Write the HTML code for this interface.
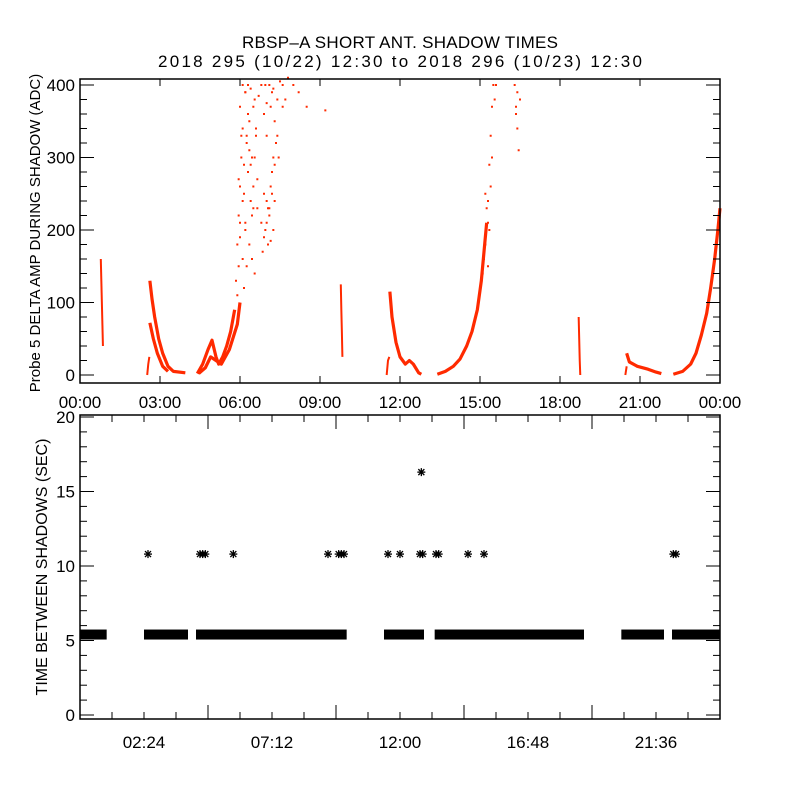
<!DOCTYPE html>
<html><head><meta charset="utf-8">
<style>
html,body{margin:0;padding:0;background:#fff;}
svg text{font-family:"Liberation Sans",sans-serif;fill:#000;}
</style></head>
<body>
<svg id="chart" width="800" height="800" viewBox="0 0 800 800" xmlns="http://www.w3.org/2000/svg">
<rect width="800" height="800" fill="#fff"/>
<text x="400" y="48" font-size="17" text-anchor="middle" textLength="316">RBSP–A SHORT ANT. SHADOW TIMES</text>
<text x="400" y="67" font-size="17" text-anchor="middle" textLength="484">2018 295 (10/22) 12:30 to 2018 296 (10/23) 12:30</text>
<g id="top"></g>
<g id="bot"></g>
</svg>
<script>
// ---- Data: top panel (hour, ADC) ----
const topCurveGroups = [
  [[0.78,160],[0.8,130],[0.82,100],[0.84,70],[0.86,40]],
  [[2.52,0],[2.56,15],[2.6,25]],
  [[2.62,130],[2.7,105],[2.8,80],[2.95,50],[3.1,30],[3.3,12],[3.5,5],[3.95,3]],
  [[2.62,72],[2.75,50],[2.9,30],[3.1,12],[3.3,5]],
  [[4.4,2],[4.6,15],[4.8,35],[4.95,48],[5.1,25],[5.2,15],[5.35,25],[5.5,40],[5.65,60],[5.8,90]],
  [[4.45,2],[4.7,10],[4.9,25],[5.1,20],[5.3,15],[5.6,35],[5.9,70],[6.0,100]],
  [[9.78,125],[9.8,90],[9.82,60],[9.84,25]],
  [[11.5,0],[11.55,20],[11.6,25]],
  [[11.62,115],[11.7,80],[11.85,45],[12.0,25],[12.2,15],[12.35,20],[12.5,15],[12.7,3],[12.8,1]],
  [[13.4,1],[13.7,5],[14.0,12],[14.25,22],[14.5,40],[14.7,60],[14.9,90],[15.05,130],[15.15,170],[15.25,210]],
  [[18.7,80],[18.72,50],[18.74,20],[18.76,0]],
  [[20.5,30],[20.6,18],[20.9,12],[21.3,8],[21.6,4],[21.8,2]],
  [[20.45,0],[20.5,12]],
  [[22.25,1],[22.6,5],[22.9,15],[23.1,30],[23.3,55],[23.5,85],[23.65,120],[23.8,160],[23.92,200],[24.0,230]]
];
const cloudHours = [5.85,5.9,5.95,6.0,6.05,6.1,6.0,6.15,6.2,6.25,6.3,6.35,6.4,6.45,6.5,6.55,6.6,6.2,6.3,6.1,6.4,6.5,6.7,6.8,6.9,7.0,7.1,7.2,7.3,7.4,7.5,7.6,7.7,7.8,8.0,8.2,8.5,9.2,6.8,6.9,7.0,7.05,7.1,7.15,7.2,7.25,7.3,6.85,6.95,7.05,7.15,7.25,6.25,6.35,6.45,6.15,6.55,6.65,6.0,5.95,6.05,6.2,
  5.9,5.95,6.0,6.1,6.15,6.25,6.3,6.4,6.45,6.55,6.6,6.65,6.1,6.2,6.35,6.5,6.9,7.0,7.1,7.2,7.3,7.0,7.15,6.95,7.25,7.4,7.6,7.35,7.45,
  15.3,15.35,15.4,15.45,15.5,15.55,15.6,15.3,15.2,15.4,15.1,15.15,15.25,15.35,15.45,15.2,15.3,16.3,16.35,16.4,16.45,16.5,16.4,16.35];
const cloudValues = [130,180,220,260,300,340,370,250,200,320,280,350,240,300,260,380,330,390,400,400,395,370,385,400,360,375,400,390,350,330,405,400,380,410,400,390,370,365,210,190,240,180,220,260,250,200,290,170,200,230,185,300,150,180,160,120,140,230,210,270,330,390,
  110,150,190,240,290,330,360,290,220,300,340,270,160,210,310,230,250,210,230,280,240,330,370,400,395,380,370,320,300,
  240,290,330,370,400,380,400,210,180,260,140,160,230,200,300,250,150,400,370,340,310,380,390,360];
// ---- Data: bottom panel ----
const bandStarts = [0.0,2.4,4.35,11.4,13.3,20.3,22.2];
const bandEnds   = [1.0,4.05,10.0,12.9,18.9,21.9,24.0];
const bandValue = 5.4;
const starHours  = [2.55,4.5,4.6,4.7,5.75,9.3,9.7,9.8,9.9,11.55,12.0,12.75,12.85,13.35,13.45,14.55,15.15,22.25,22.35,12.8];
const starValues = [10.8,10.8,10.8,10.8,10.8,10.8,10.8,10.8,10.8,10.8,10.8,10.8,10.8,10.8,10.8,10.8,10.8,10.8,10.8,16.3];
const topYTicks = ["0","100","200","300","400"];
const topXTicks = ["00:00","03:00","06:00","09:00","12:00","15:00","18:00","21:00","00:00"];
const botYTicks = ["0","5","10","15","20"];
const botXTicks = ["02:24","07:12","12:00","16:48","21:36"];

const NS="http://www.w3.org/2000/svg";
function mk(tag,attrs,parent){const e=document.createElementNS(NS,tag);for(const k in attrs)e.setAttribute(k,attrs[k]);parent.appendChild(e);return e;}
const X0=80,X1=720;
const xs=h=>X0+(h/24)*(X1-X0);
const T={top:79,bot:383,y0:375,k:0.725};
const ty=v=>T.y0-v*T.k;
const gt=document.getElementById('top');
const RED="#ff2a00";
topCurveGroups.forEach((grp,i)=>{
  const thin=grp.length<=5&&Math.abs(grp[0][0]-grp[grp.length-1][0])<0.2;
  const pl=mk('polyline',{points:grp.map(p=>xs(p[0])+','+ty(p[1])).join(' '),fill:'none',stroke:RED,'stroke-width':thin?2:3.2,'stroke-linejoin':'round'},gt);
  
  
});
cloudHours.forEach((h,i)=>{
  const r=mk('rect',{x:xs(h)-1,y:ty(cloudValues[i])-1,width:2,height:2,fill:RED},gt);
  
  
});
const tf=mk('rect',{x:X0,y:T.top,width:X1-X0,height:T.bot-T.top,fill:'none',stroke:'#000','stroke-width':1.5},gt);


for(let v=0;v<=400;v+=20){
  const len=(v%100===0)?14:7;
  mk('line',{x1:X0,x2:X0+len,y1:ty(v),y2:ty(v),stroke:'#000'},gt);
  mk('line',{x1:X1,x2:X1-len,y1:ty(v),y2:ty(v),stroke:'#000'},gt);
}
topYTicks.forEach(s=>{
  const t=mk('text',{x:75,y:ty(+s)+6,'font-size':17,'text-anchor':'end'},gt);t.textContent=s;
  
  
});
topXTicks.forEach((s,i)=>{
  const x=xs(i*3);
  mk('line',{x1:x,x2:x,y1:T.bot,y2:T.bot-7,stroke:'#000'},gt);
  mk('line',{x1:x,x2:x,y1:T.top,y2:T.top+7,stroke:'#000'},gt);
  const t=mk('text',{x:x,y:408,'font-size':17,'text-anchor':'middle'},gt);t.textContent=s;
  
  
});
const tyl=mk('text',{x:0,y:0,'font-size':15,'text-anchor':'middle',transform:'translate(40,233) rotate(-90)'},gt);
tyl.textContent='Probe 5 DELTA AMP DURING SHADOW (ADC)';



const B={top:415,bot:719,y0:715,k:14.9};
const by=v=>B.y0-v*B.k;
const gb=document.getElementById('bot');
bandStarts.forEach((s,i)=>{
  const r=mk('rect',{x:xs(s),y:by(bandValue)-5,width:xs(bandEnds[i])-xs(s),height:10,fill:'#000'},gb);
  
  
});
starHours.forEach((h,i)=>{
  const cx=xs(h),cy=by(starValues[i]);
  const g=mk('g',{stroke:'#000','stroke-width':1.3},gb);
  
  
  mk('line',{x1:cx-4,x2:cx+4,y1:cy,y2:cy},g);
  mk('line',{x1:cx,x2:cx,y1:cy-4,y2:cy+4},g);
  mk('line',{x1:cx-3,x2:cx+3,y1:cy-3,y2:cy+3},g);
  mk('line',{x1:cx-3,x2:cx+3,y1:cy+3,y2:cy-3},g);
});
const bf=mk('rect',{x:X0,y:B.top,width:X1-X0,height:B.bot-B.top,fill:'none',stroke:'#000','stroke-width':1.5},gb);


for(let v=0;v<=20;v++){
  const len=(v%5===0)?14:7;
  mk('line',{x1:X0,x2:X0+len,y1:by(v),y2:by(v),stroke:'#000'},gb);
  mk('line',{x1:X1,x2:X1-len,y1:by(v),y2:by(v),stroke:'#000'},gb);
}
botYTicks.forEach(s=>{
  const t=mk('text',{x:75,y:by(+s)+6,'font-size':17,'text-anchor':'end'},gb);t.textContent=s;
  
  
});
for(let i=1;i<20;i++){
  const x=xs(i*1.2),len=(i%4===0)?14:7;
  mk('line',{x1:x,x2:x,y1:B.bot,y2:B.bot-len,stroke:'#000'},gb);
  mk('line',{x1:x,x2:x,y1:B.top,y2:B.top+len,stroke:'#000'},gb);
}
botXTicks.forEach((s,i)=>{
  const t=mk('text',{x:xs((i+0.5)*4.8),y:748,'font-size':17,'text-anchor':'middle'},gb);t.textContent=s;
  
  
});
const byl=mk('text',{x:0,y:0,'font-size':16,'text-anchor':'middle',transform:'translate(47,567) rotate(-90)'},gb);
byl.textContent='TIME BETWEEN SHADOWS (SEC)';


</script>
</body></html>
